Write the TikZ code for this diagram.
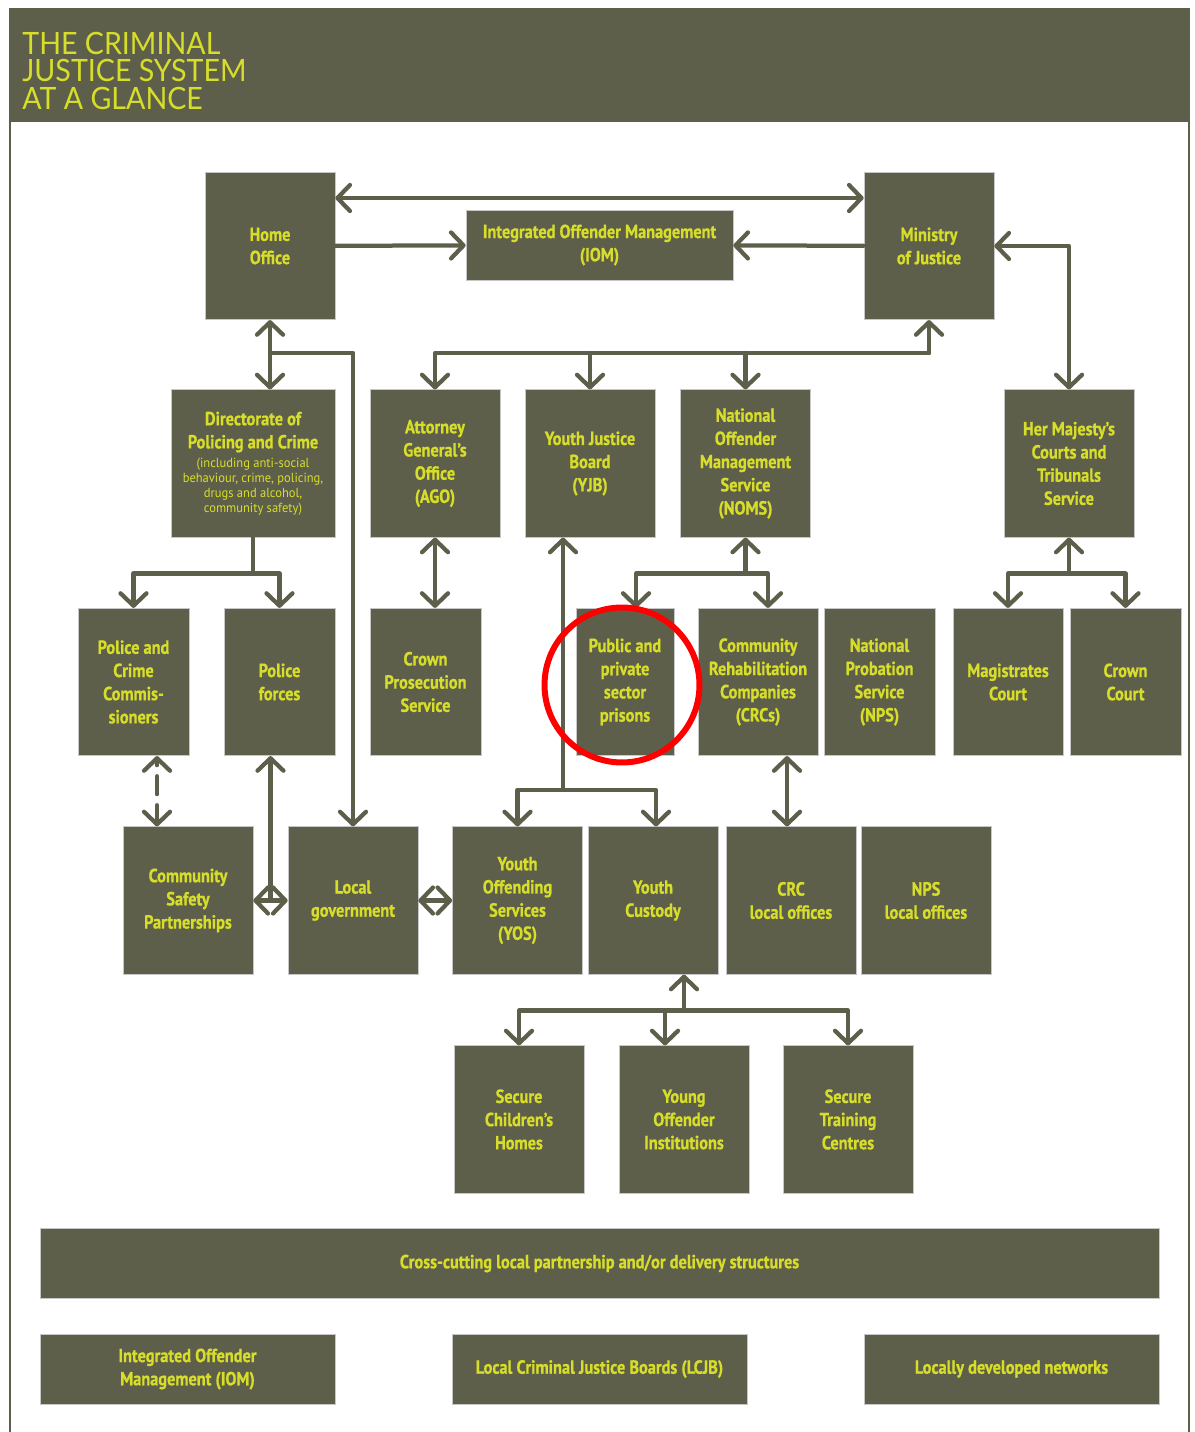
\documentclass[tikz,border=0pt]{standalone}
\usepackage{fontspec}
\usepackage{tikz}
\usetikzlibrary{positioning,arrows.meta,calc}
\setmainfont{PT Sans}
\newfontfamily\cjsnarrow{PT Sans}[FakeStretch=0.86, BoldFeatures={FakeBold=0.7}]
\newfontfamily\cjsnotefont{PT Sans}[FakeStretch=0.95]
\newfontfamily\cjstitle{Lato}[FakeStretch=0.93]
\newcommand\cjsnote{\cjsnotefont\mdseries\fontsize{7.5}{8.6}\selectfont}
\definecolor{cjsolive}{HTML}{5E5F4B}
\definecolor{cjsyellow}{HTML}{D6DE2A}

\begin{document}
\begin{tikzpicture}[
  x=0.02cm, y=-0.02cm,
  >={Straight Barb[length=2.5mm, width=5.2mm, round]},
  unit/.style={fill=cjsolive, draw=black!22, line width=0.4pt, text=cjsyellow, font=\cjsnarrow\bfseries\fontsize{10.8}{13.2}\selectfont, align=center, inner sep=0pt, minimum width=2.6cm, minimum height=2.95cm},
  bar/.style={unit, minimum height=1.4cm},
  link/.style={draw=cjsolive, line width=0.085cm, line cap=round, line join=round},
]
\useasboundingbox (0,0) rectangle (1194,1432);
\fill[cjsolive] (9,8) rectangle (1190,122);
\draw[cjsolive, line width=0.06cm] (10,122) -- (10,1432);
\draw[cjsolive, line width=0.04cm] (1189,122) -- (1189,1432);
\node[anchor=north west, inner sep=0pt, align=left, text=cjsyellow, font=\cjstitle\fontsize{17.5}{15.5}\selectfont] (title) at (22,32) {THE CRIMINAL\\JUSTICE SYSTEM\\AT A GLANCE};

\node[unit] (home) at (270,246) {Home\\Office};
\node[bar, minimum width=5.34cm] (iom) at (599.5,245) {Integrated Offender Management\\(IOM)};
\node[unit] (moj) at (929,246) {Ministry\\of Justice};

\node[unit, minimum width=3.28cm, text width=3.2cm, align=flush center] (dpc) at (253,463.5) {Directorate of\\Policing and Crime\par\vspace{2pt}{\cjsnote (including anti-social\\behaviour, crime, policing,\\drugs and alcohol,\\community safety)\par}};
\node[unit] (ago) at (435,463.5) {Attorney\\General’s\\Office\\(AGO)};
\node[unit] (yjb) at (590,463.5) {Youth Justice\\Board\\(YJB)};
\node[unit] (noms) at (745.5,463.5) {National\\Offender\\Management\\Service\\(NOMS)};
\node[unit] (hmcts) at (1069,463.5) {Her Majesty’s\\Courts and\\Tribunals\\Service};

\node[unit, minimum width=2.22cm] (pcc) at (133.5,682) {Police and\\Crime\\Commis-\\sioners};
\node[unit, minimum width=2.22cm] (police) at (279.5,682) {Police\\forces};
\node[unit, minimum width=2.22cm] (cps) at (425.5,682) {Crown\\Prosecution\\Service};
\node[unit, minimum width=1.96cm] (prisons) at (625,682) {Public and\\private\\sector\\prisons};
\node[unit, minimum width=2.4cm] (crc) at (758,682) {Community\\Rehabilitation\\Companies\\(CRCs)};
\node[unit, minimum width=2.22cm] (nps) at (879.5,682) {National\\Probation\\Service\\(NPS)};
\node[unit, minimum width=2.2cm] (mags) at (1008,682) {Magistrates\\Court};
\node[unit, minimum width=2.22cm] (crown) at (1125.5,682) {Crown\\Court};

\node[unit] (csp) at (188,900.5) {Community\\Safety\\Partnerships};
\node[unit] (lg) at (353,900.5) {Local\\government};
\node[unit] (yos) at (517.5,900.5) {Youth\\Offending\\Services\\(YOS)};
\node[unit] (ycust) at (653,900.5) {Youth\\Custody};
\node[unit] (crcloc) at (791,900.5) {CRC\\local offices};
\node[unit] (npsloc) at (926,900.5) {NPS\\local offices};

\node[unit] (sch) at (519,1119.5) {Secure\\Children’s\\Homes};
\node[unit] (yoi) at (684,1119.5) {Young\\Offender\\Institutions};
\node[unit] (stc) at (848,1119.5) {Secure\\Training\\Centres};

\node[bar, minimum width=22.38cm] (cross) at (599.5,1263.5) {Cross-cutting local partnership and/or delivery structures};
\node[bar, minimum width=5.9cm] (iomlocal) at (187.5,1369) {Integrated Offender\\Management (IOM)};
\node[bar, minimum width=5.9cm] (lcjb) at (599.5,1369) {Local Criminal Justice Boards (LCJB)};
\node[bar, minimum width=5.9cm] (networks) at (1011.5,1369) {Locally developed networks};

\draw[link, <->] ([yshift=0.96cm]home.east) -- ([yshift=0.96cm]moj.west);
\draw[link, ->] (home) -- (iom);
\draw[link, ->] (moj) -- (iom);
\draw[link, <->] (moj.east) -| (hmcts.north);
\draw[link, <->] (home.south) -- (home.south |- dpc.north);
\coordinate (homesplit) at (home.south |- 0,353);
\draw[link, ->] (homesplit) -| (lg.north);
\coordinate (mojsplit) at (moj.south |- 0,353);
\draw[link, ->] (mojsplit) -- (moj.south);
\draw[link, ->] (mojsplit) -| (ago.north);
\draw[link, ->] (yjb.north |- mojsplit) -- (yjb.north);
\draw[link, ->] (noms.north |- mojsplit) -- (noms.north);

\coordinate (dpcsplit) at ([yshift=-0.72cm]dpc.south);
\draw[link] (dpc.south) -- (dpcsplit);
\draw[link, ->] (dpcsplit) -| (pcc.north);
\draw[link, ->] (dpcsplit) -| (police.north);
\draw[link, <->] (ago.south) -- (ago.south |- cps.north);
\coordinate (yjbsplit) at (563,790);
\draw[link, ->] (yjbsplit) -- (yjbsplit |- yjb.south);
\draw[link, ->] (yjbsplit) -| (yos.north);
\draw[link, ->] (yjbsplit) -| ([xshift=0.06cm]ycust.north);
\coordinate (nomssplit) at ([yshift=-0.72cm]noms.south);
\draw[link, ->] (nomssplit) -- (noms.south);
\draw[link, ->] (nomssplit) -| ([xshift=0.22cm]prisons.north);
\draw[link, ->] (nomssplit) -| ([xshift=0.2cm]crc.north);
\coordinate (hmctssplit) at ([yshift=-0.72cm]hmcts.south);
\draw[link, ->] (hmctssplit) -- (hmcts.south);
\draw[link, ->] (hmctssplit) -| (mags.north);
\draw[link, ->] (hmctssplit) -| (crown.north);

\coordinate (pccjoin) at ([xshift=-0.62cm]csp.north);
\draw[link, <->, dash pattern=on 0.36cm off 0.22cm, dash phase=0.02cm] (pccjoin) -- (pccjoin |- pcc.south);
\coordinate (cspgap) at ($(csp.east)!0.5!(lg.west)$);
\draw[link, ->] (cspgap) -- (cspgap |- police.south);
\draw[link, <->] (csp) -- (lg);
\draw[link, <->] (lg) -- (yos);
\draw[link, <->] ([xshift=-0.08cm]crcloc.north) -- ([xshift=-0.08cm]crcloc.north |- crc.south);
\coordinate (ycsplit) at ([xshift=0.62cm, yshift=-0.72cm]ycust.south);
\draw[link, ->] (ycsplit) -- (ycsplit |- ycust.south);
\draw[link, ->] (ycsplit) -| (sch.north);
\draw[link, ->] (ycsplit) -| ([xshift=-0.38cm]yoi.north);
\draw[link, ->] (ycsplit) -| (stc.north);

\node[circle, draw=red, line width=0.12cm, minimum size=3.1cm] (spot) at (622,685) {};
\end{tikzpicture}
\end{document}
